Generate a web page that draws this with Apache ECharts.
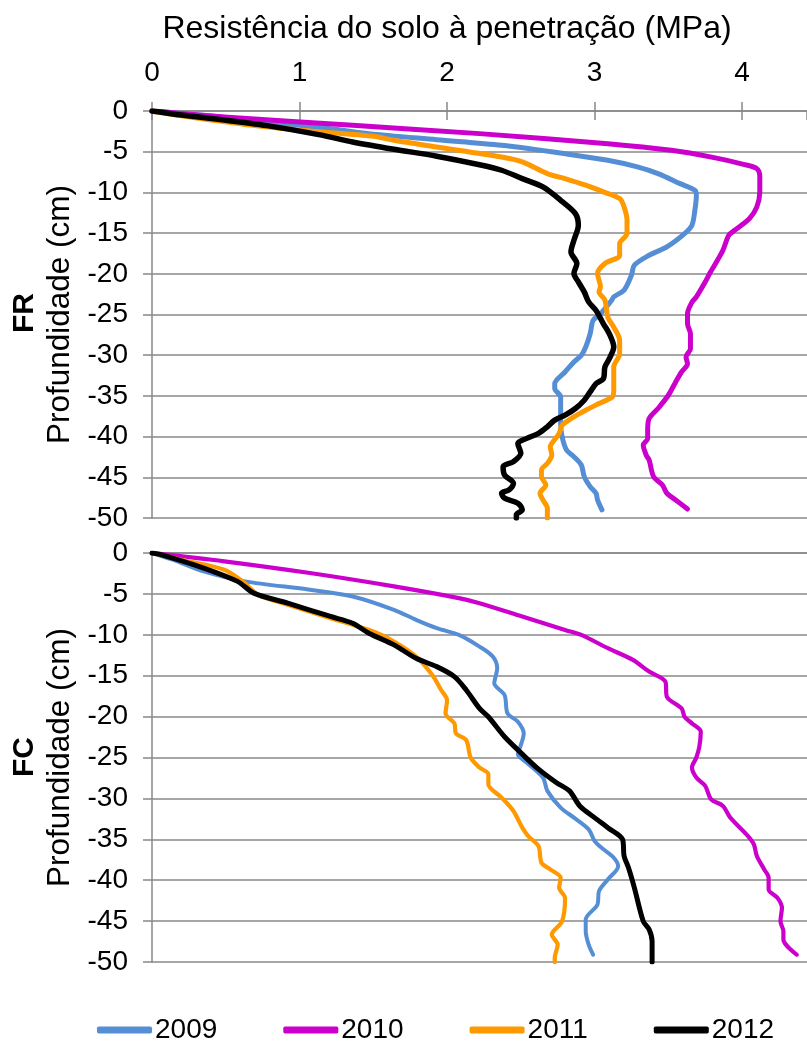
<!DOCTYPE html>
<html>
<head>
<meta charset="utf-8">
<script src="https://cdn.jsdelivr.net/npm/echarts@6/dist/echarts.min.js"></script>
<style>
  html, body { margin: 0; padding: 0; background: #fff; }
  #chart { width: 807px; height: 1045px; }
</style>
</head>
<body>
<div id="chart"></div>
<script>
// Penetration resistance (MPa) vs depth (cm), pairs of [resistance, depth]
const years = ['2009', '2010', '2011', '2012'];
const yearColors = ['#558ED5', '#CC00CC', '#FF9900', '#000000'];
const depthTicks = [0, -5, -10, -15, -20, -25, -30, -35, -40, -45, -50];
const resistanceTicks = [0, 1, 2, 3, 4];

// FR panel
const fr2009 = [[0,0],[0.35,-0.53],[0.78,-1.35],[1.21,-2.17],[1.47,-2.78],[1.93,-3.52],[2.37,-4.21],[2.80,-5.24],[3.09,-6.06],[3.29,-6.87],[3.43,-7.69],[3.58,-8.92],[3.68,-9.74],[3.69,-10.35],[3.68,-12.19],[3.66,-14.03],[3.61,-15.06],[3.49,-16.69],[3.37,-17.72],[3.27,-18.94],[3.25,-20.17],[3.20,-22.01],[3.13,-22.83],[3.115,-23.29],[3.04,-24.92],[2.99,-25.73],[2.97,-27.37],[2.94,-29.0],[2.91,-30.02],[2.86,-30.84],[2.80,-32.06],[2.73,-33.49],[2.73,-34.1],[2.77,-35.12],[2.77,-36.76],[2.77,-38.39],[2.78,-40.02],[2.81,-41.65],[2.86,-42.47],[2.91,-43.49],[2.93,-44.92],[2.97,-46.14],[3.01,-46.96],[3.02,-47.78],[3.05,-49.0]];
const fr2010 = [[0,0],[0.49,-0.74],[1.36,-1.76],[2.22,-2.78],[3.09,-4.01],[3.52,-4.83],[3.81,-5.73],[4.01,-6.55],[4.10,-7.08],[4.12,-8.1],[4.12,-9.94],[4.10,-11.78],[4.05,-13.2],[3.95,-14.65],[3.91,-15.26],[3.87,-17.1],[3.82,-18.74],[3.78,-19.97],[3.75,-21.0],[3.69,-22.83],[3.66,-23.5],[3.63,-24.92],[3.63,-26.14],[3.65,-27.37],[3.65,-29.2],[3.62,-30.22],[3.63,-31.04],[3.59,-32.06],[3.55,-33.29],[3.50,-34.92],[3.43,-36.55],[3.37,-37.78],[3.36,-39.2],[3.36,-40.22],[3.33,-41.04],[3.35,-42.27],[3.37,-42.88],[3.40,-44.92],[3.46,-45.94],[3.49,-46.96],[3.55,-47.78],[3.63,-48.9]];
const fr2011 = [[0,0],[0.20,-0.6],[0.63,-1.65],[1.07,-2.45],[1.50,-3.11],[1.64,-3.60],[1.93,-4.42],[2.37,-5.65],[2.51,-6.26],[2.68,-7.69],[2.80,-8.31],[2.94,-9.12],[3.06,-9.94],[3.17,-10.76],[3.20,-11.78],[3.22,-13.42],[3.22,-15.06],[3.17,-16.28],[3.17,-17.72],[3.07,-18.74],[3.02,-19.97],[3.04,-21.6],[3.03,-22.22],[3.07,-23.24],[3.09,-25.33],[3.13,-26.55],[3.17,-28.18],[3.17,-29.82],[3.13,-31.45],[3.13,-33.08],[3.13,-34.31],[3.12,-35.12],[3.03,-35.94],[2.94,-36.76],[2.86,-37.57],[2.78,-38.59],[2.76,-39.61],[2.71,-40.84],[2.70,-41.24],[2.71,-42.27],[2.68,-43.29],[2.64,-44.1],[2.64,-44.92],[2.67,-45.94],[2.63,-46.96],[2.65,-47.78],[2.68,-48.8],[2.68,-50]];
const fr2012 = [[0,0],[0.20,-0.5],[0.49,-1.1],[0.78,-1.8],[1.13,-2.9],[1.36,-3.8],[1.64,-4.7],[1.93,-5.55],[2.22,-6.6],[2.37,-7.28],[2.51,-8.31],[2.65,-9.33],[2.77,-10.97],[2.87,-12.6],[2.89,-14.03],[2.86,-15.88],[2.84,-17.31],[2.88,-18.74],[2.86,-19.97],[2.89,-20.99],[2.93,-22.22],[2.96,-23.45],[3.01,-24.51],[3.06,-26.14],[3.10,-27.37],[3.13,-29.0],[3.10,-30.43],[3.07,-31.45],[3.06,-32.88],[3.01,-33.49],[2.97,-34.51],[2.93,-35.53],[2.87,-36.55],[2.80,-37.37],[2.73,-37.98],[2.68,-38.8],[2.62,-39.61],[2.54,-40.22],[2.48,-40.84],[2.50,-42.06],[2.45,-43.08],[2.38,-43.69],[2.39,-44.71],[2.45,-45.73],[2.42,-46.55],[2.37,-46.96],[2.39,-47.57],[2.48,-48.18],[2.51,-49.0],[2.47,-49.6],[2.47,-50]];

// FC panel
const fc2009 = [[0,0],[0.14,-0.82],[0.35,-2.25],[0.63,-3.47],[1.07,-4.49],[1.36,-5.31],[1.64,-6.94],[1.79,-8.17],[1.93,-9.19],[2.08,-10.01],[2.22,-11.44],[2.31,-12.66],[2.34,-14.09],[2.32,-15.93],[2.39,-17.36],[2.41,-19.61],[2.48,-20.63],[2.52,-22.06],[2.50,-23.5],[2.48,-24.59],[2.54,-25.61],[2.65,-27.45],[2.68,-29.08],[2.77,-31.13],[2.86,-32.35],[2.96,-33.78],[3.00,-35.21],[3.06,-36.23],[3.13,-37.25],[3.16,-38.28],[3.09,-39.91],[3.03,-41.34],[3.02,-42.97],[2.94,-44.81],[2.94,-46.24],[2.96,-47.88],[2.99,-49.1]];
const fc2010 = [[0,0],[0.49,-1.02],[1.07,-2.45],[1.64,-4.08],[2.08,-5.51],[2.22,-6.13],[2.51,-7.76],[2.80,-9.40],[2.91,-10.01],[3.09,-11.64],[3.26,-13.07],[3.37,-14.50],[3.48,-15.73],[3.49,-17.57],[3.59,-19.0],[3.61,-20.02],[3.66,-20.83],[3.72,-21.85],[3.71,-23.69],[3.69,-25.0],[3.66,-26.23],[3.69,-27.45],[3.75,-28.47],[3.79,-30.11],[3.87,-30.92],[3.92,-32.35],[4.04,-34.6],[4.08,-35.62],[4.10,-37.05],[4.15,-38.68],[4.18,-39.71],[4.18,-41.14],[4.24,-42.16],[4.27,-43.38],[4.26,-45.02],[4.28,-46.24],[4.28,-47.26],[4.37,-49.1]];
const fc2011 = [[0,0],[0.20,-0.82],[0.49,-2.04],[0.63,-3.68],[0.72,-5.11],[0.92,-6.33],[1.21,-7.97],[1.50,-9.60],[1.64,-10.83],[1.79,-12.66],[1.90,-14.91],[1.96,-16.75],[2.00,-17.97],[1.99,-19.61],[2.05,-20.83],[2.06,-22.06],[2.13,-22.88],[2.16,-25.0],[2.22,-26.23],[2.28,-27.04],[2.28,-28.27],[2.37,-29.9],[2.45,-31.54],[2.51,-33.58],[2.55,-34.6],[2.62,-35.83],[2.64,-37.87],[2.70,-38.68],[2.77,-39.71],[2.76,-40.93],[2.80,-42.16],[2.78,-45.02],[2.71,-46.65],[2.75,-47.88],[2.73,-49.51],[2.73,-50]];
const fc2012 = [[0,0],[0.06,-0.20],[0.35,-1.84],[0.58,-3.47],[0.69,-4.90],[0.92,-6.13],[1.21,-7.76],[1.36,-8.58],[1.47,-9.80],[1.64,-11.23],[1.79,-12.87],[1.93,-13.89],[2.05,-15.11],[2.13,-16.75],[2.22,-19.0],[2.28,-20.02],[2.39,-22.47],[2.51,-24.59],[2.62,-26.43],[2.74,-28.06],[2.83,-29.08],[2.90,-30.92],[3.00,-32.35],[3.09,-33.58],[3.19,-35.0],[3.20,-37.05],[3.23,-38.48],[3.27,-40.93],[3.33,-45.02],[3.37,-46.04],[3.39,-47.47],[3.39,-50]];

const frSeries = [fr2009, fr2010, fr2011, fr2012];
const fcSeries = [fc2009, fc2010, fc2011, fc2012];

const FONT = 'Liberation Sans, Arial, sans-serif';
const GRID_GRAY = '#888888';
const X_MAX = 4.44;

const chart = echarts.init(document.getElementById('chart'), null, { renderer: 'canvas' });

function xAxisFor(gridIndex, withLabels, ticksInside) {
  return {
    type: 'value', gridIndex: gridIndex, position: 'top',
    min: resistanceTicks[0], max: X_MAX, interval: 1,
    axisLine: { show: !ticksInside, lineStyle: { color: GRID_GRAY, width: 1.5 } },
    axisTick: { show: withLabels, inside: ticksInside, length: 9, lineStyle: { color: GRID_GRAY, width: 1.5 } },
    axisLabel: {
      show: withLabels && !ticksInside, fontSize: 28, fontFamily: FONT, color: '#000', margin: 24,
      showMaxLabel: false,
      formatter: v => (resistanceTicks.indexOf(v) >= 0 ? String(v) : '')
    },
    splitLine: { show: false }
  };
}

function yAxisFor(gridIndex) {
  return {
    type: 'value', gridIndex: gridIndex,
    min: depthTicks[depthTicks.length - 1], max: depthTicks[0], interval: 5,
    name: 'Profundidade (cm)', nameLocation: 'middle', nameRotate: 90, nameGap: 76,
    nameTextStyle: { fontSize: 31.5, fontFamily: FONT, color: '#000' },
    axisLine: { show: true, onZero: false, lineStyle: { color: GRID_GRAY, width: 1.5 } },
    axisTick: { show: true, length: 9, lineStyle: { color: GRID_GRAY, width: 1.5 } },
    axisLabel: { fontSize: 28, fontFamily: FONT, color: '#000', margin: 24 },
    splitLine: { show: true, lineStyle: { color: GRID_GRAY, width: 1.5 } }
  };
}

// line widths per panel and year
const frWidths = [5, 5, 5, 5.5];
const fcWidths = [4, 4.2, 4.2, 5];

const series = [];
[frSeries, fcSeries].forEach((panel, p) => {
  panel.forEach((data, i) => {
    series.push({
      name: years[i], type: 'line', data: data,
      xAxisIndex: p === 0 ? 0 : 2, yAxisIndex: p,
      showSymbol: false, symbol: 'none', smooth: 0.3,
      lineStyle: { color: yearColors[i], width: p === 0 ? frWidths[i] : fcWidths[i], cap: 'round', join: 'round' },
      itemStyle: { color: yearColors[i] },
      emphasis: { disabled: true },
      z: 2 + i
    });
  });
});

chart.setOption({
  animation: false,
  backgroundColor: '#fff',
  textStyle: { fontFamily: FONT },
  grid: [
    { left: 152, right: 0, top: 111, height: 407 },
    { left: 152, right: 0, top: 553, height: 409 }
  ],
  xAxis: [xAxisFor(0, true, false), xAxisFor(0, true, true), xAxisFor(1, false, false)],
  yAxis: [yAxisFor(0), yAxisFor(1)],
  legend: {
    data: years, left: 97, top: 1016, padding: 0,
    itemWidth: 55, itemHeight: 7, itemGap: 66, icon: 'roundRect',
    textStyle: { fontSize: 28, fontFamily: FONT, color: '#000', padding: [0, 0, 0, -2] }
  },
  graphic: [
    { type: 'text', x: 447, y: 29, style: { text: 'Resistência do solo à penetração (MPa)', fontSize: 32, fontFamily: FONT, fill: '#000', textAlign: 'center', textVerticalAlign: 'middle' } },
    { type: 'text', x: 25, y: 313, rotation: Math.PI / 2, style: { text: 'FR', fontSize: 30, fontWeight: 'bold', fontFamily: FONT, fill: '#000', textAlign: 'center', textVerticalAlign: 'middle' } },
    { type: 'text', x: 25, y: 757, rotation: Math.PI / 2, style: { text: 'FC', fontSize: 30, fontWeight: 'bold', fontFamily: FONT, fill: '#000', textAlign: 'center', textVerticalAlign: 'middle' } }
  ],
  series: series
});
</script>
</body>
</html>
